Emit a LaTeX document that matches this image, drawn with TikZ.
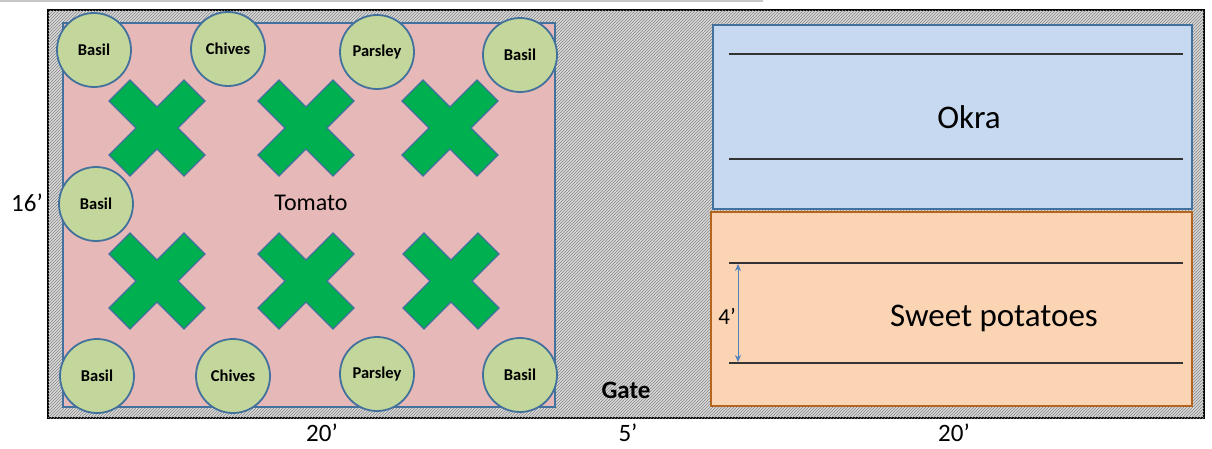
\documentclass[tikz,border=0pt]{standalone}
\usepackage{fontspec}
\setmainfont{Carlito}
\usepackage{xcolor}
\usepackage{tikz}
\usetikzlibrary{calc}
\usetikzlibrary{patterns,arrows.meta}

\definecolor{tomatopink}{HTML}{E6B9B8}
\definecolor{edgeblue}{HTML}{41719C}
\definecolor{herbgreen}{HTML}{C3D69B}
\definecolor{crossgreen}{HTML}{00B050}
\definecolor{okrablue}{HTML}{C6D9F1}
\definecolor{potatoorange}{HTML}{FBD4B4}
\definecolor{potatoedge}{HTML}{B4641E}
\definecolor{arrowblue}{HTML}{4F81BD}

\tikzset{
    herb/.style={circle, draw=edgeblue, fill=herbgreen, line width=1.8pt, minimum size=74pt, inner sep=0pt, font=\fontsize{16.5}{18}\selectfont\bfseries},
    dimlabel/.style={font=\fontsize{25}{28}\selectfont},
    bedlabel/.style={font=\fontsize{33}{38}\selectfont},
    rowline/.style={line width=1.2pt, black!80},
    tomatox/.pic={
        \draw[fill=crossgreen, draw=edgeblue, line width=1.2pt]
            (0,21) -- (27,48) -- (48,27) -- (21,0) -- (48,-27) -- (27,-48) --
            (0,-21) -- (-27,-48) -- (-48,-27) -- (-21,0) -- (-48,27) -- (-27,48) -- cycle;
    }
}

\begin{document}
\begin{tikzpicture}[x=1pt, y=-1pt]
        \useasboundingbox (0,0) rectangle (1212,448);
        %TOP EDGE
        \draw[gray!45, line width=2pt] (0,1) -- (763,1);
        %GARDEN
        \draw[line width=2.5pt, fill=gray!30, postaction={pattern=north east lines, pattern color=gray!95}] (48,10) rectangle (1204,418);
        %TOMATO
        \draw[line width=1.5pt, draw=edgeblue, fill=tomatopink] (63,23) rectangle (555,407);
        \node[font=\fontsize{24}{28}\selectfont] (tomato) at (311,203) {Tomato};
        \foreach \cx/\cy in {157/128, 306/128, 450/128, 157/281, 306/281, 451/281}
            \pic at (\cx,\cy) {tomatox};
        %HERBS
        \node[herb] (basilA) at (94,50) {Basil};
        \node[herb] (chivesA) at (228,49) {Chives};
        \node[herb] (parsleyA) at (377,52) {Parsley};
        \node[herb] (basilB) at (520,55) {Basil};
        \node[herb] (basilC) at (96,204) {Basil};
        \node[herb] (basilD) at (97,376) {Basil};
        \node[herb] (chivesB) at (233,376) {Chives};
        \node[herb] (parsleyB) at (377,374) {Parsley};
        \node[herb] (basilE) at (520,375) {Basil};
        %OKRA
        \draw[line width=1.5pt, draw=edgeblue, fill=okrablue] (713,25) rectangle (1192,209);
        \draw[rowline] (729,54) -- (1183,54);
        \draw[rowline] (729,159) -- (1183,159);
        \node[bedlabel] (okra) at (969,117) {Okra};
        %SWEET POTATOES
        \draw[line width=1.5pt, draw=potatoedge, fill=potatoorange] (711,212) rectangle (1192,406);
        \draw[rowline] (729,263) -- (1183,263);
        \draw[rowline] (729,363) -- (1183,363);
        \node[bedlabel] (potato) at (994,318) {Sweet potatoes};
        \coordinate (rowtop) at (738,264);
        \coordinate (rowbot) at (738,362);
        \draw[arrowblue, line width=1pt, {Stealth[length=7pt,width=6pt]}-{Stealth[length=7pt,width=6pt]}] (rowtop) -- (rowbot);
        \node[font=\fontsize{23}{26}\selectfont, anchor=east, inner sep=1pt] (rowgap) at (737,316) {4’};
        %LABELS
        \node[font=\fontsize{25}{28}\selectfont\bfseries] (gate) at (626,390) {Gate};
        \node[dimlabel] (side) at (27,203) {16’};
        \node[dimlabel] (widthA) at (322,433) {20’};
        \node[dimlabel] (widthB) at (628,433) {5’};
        \node[dimlabel] (widthC) at (954,433) {20’};
    \end{tikzpicture}
\end{document}
